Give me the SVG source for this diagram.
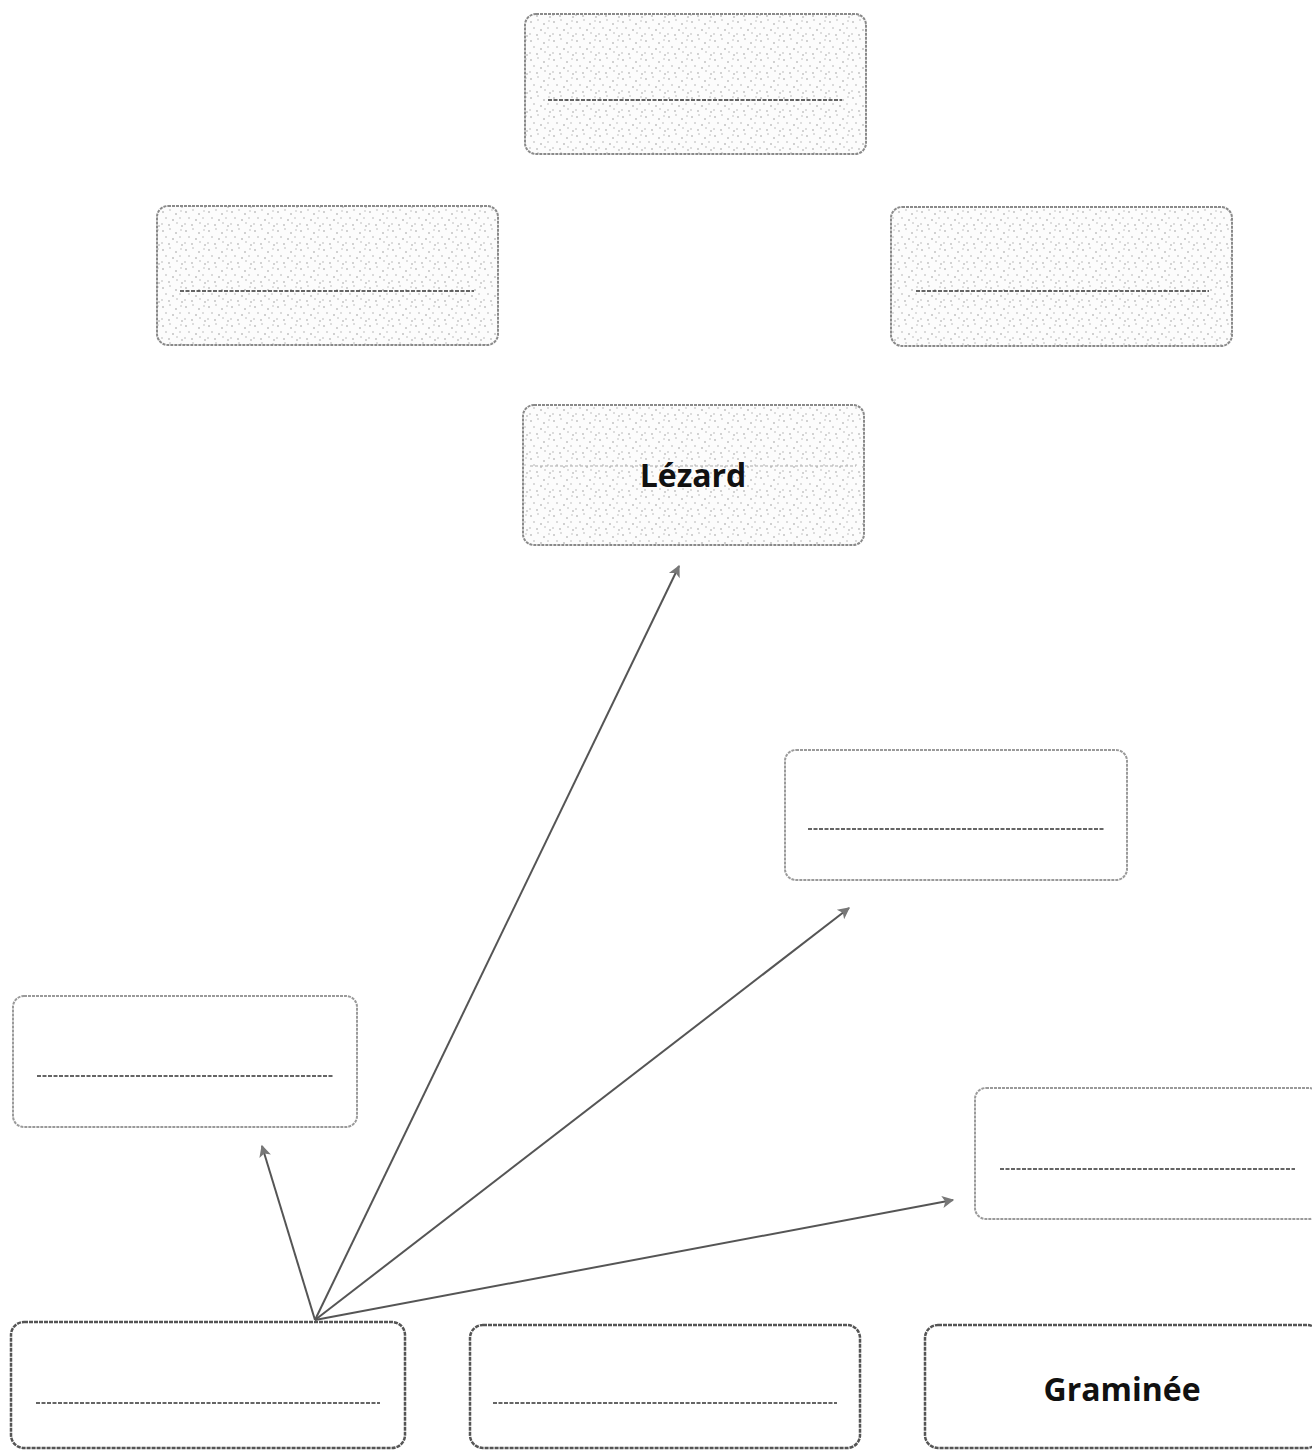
<svg xmlns="http://www.w3.org/2000/svg" width="1312" height="1450" viewBox="0 0 1312 1450">
<defs>
<pattern id="stip" width="23" height="19" patternUnits="userSpaceOnUse">
<rect width="23" height="19" fill="#fcfcfc"/>
<circle cx="2" cy="3" r="0.8" fill="#9a9a9a"/>
<circle cx="9" cy="1" r="0.7" fill="#a8a8a8"/>
<circle cx="15" cy="5" r="0.8" fill="#9a9a9a"/>
<circle cx="20" cy="2" r="0.7" fill="#b0b0b0"/>
<circle cx="5" cy="9" r="0.7" fill="#a0a0a0"/>
<circle cx="12" cy="11" r="0.8" fill="#999"/>
<circle cx="19" cy="9" r="0.7" fill="#aaa"/>
<circle cx="1" cy="15" r="0.7" fill="#a4a4a4"/>
<circle cx="8" cy="16" r="0.8" fill="#9c9c9c"/>
<circle cx="16" cy="14" r="0.7" fill="#a8a8a8"/>
<circle cx="21" cy="17" r="0.8" fill="#a0a0a0"/>
</pattern>
<marker id="ah" viewBox="0 0 10 10" refX="9" refY="5" markerWidth="18" markerHeight="12" markerUnits="userSpaceOnUse" orient="auto">
<path d="M0,0 L10,5 L0,10 L2.5,5 z" fill="#777"/>
</marker>
<style>
.shaded{fill:url(#stip);stroke:#8a8a8a;stroke-width:2;stroke-dasharray:3 1}
.plain{fill:#fff;stroke:#9a9a9a;stroke-width:2;stroke-dasharray:3 1}
.bold{fill:#fff;stroke:#555;stroke-width:2.5;stroke-dasharray:4 1}
.blank{stroke:#333;stroke-width:1.6;stroke-dasharray:4 1.5;fill:none}
.faint{stroke:#aaa;stroke-width:1.2;stroke-dasharray:3 2;fill:none}
.lbl{font-family:"Open Sans",Lato,"Liberation Sans",sans-serif;font-weight:bold;font-size:32px;fill:#111;text-anchor:middle}
.arr{stroke:#555;stroke-width:2;fill:none;marker-end:url(#ah)}
</style>
</defs>
<rect width="1312" height="1450" fill="#fff"/>
<g id="connectors">
<line class="arr" x1="315" y1="1320" x2="679" y2="566"/>
<line class="arr" x1="315" y1="1320" x2="849" y2="908"/>
<line class="arr" x1="315" y1="1320" x2="953" y2="1200"/>
<line class="arr" x1="315" y1="1320" x2="262" y2="1146"/>
</g>
<g id="n_top">
<rect class="shaded" x="525" y="14" width="341" height="140" rx="11"/>
<line class="blank" x1="548" y1="100" x2="842" y2="100"/>
</g>
<g id="n_left2">
<rect class="shaded" x="157" y="206" width="341" height="139" rx="11"/>
<line class="blank" x1="180" y1="291" x2="474" y2="291"/>
</g>
<g id="n_right2">
<rect class="shaded" x="891" y="207" width="341" height="139" rx="11"/>
<line class="blank" x1="916" y1="291" x2="1209" y2="291"/>
</g>
<g id="n_lezard">
<rect class="shaded" x="523" y="405" width="341" height="140" rx="11"/>
<line class="faint" x1="530" y1="466" x2="856" y2="466"/>
<text class="lbl" x="693" y="487">Lézard</text>
</g>
<g id="n_mid">
<rect class="plain" x="785" y="750" width="342" height="130" rx="11"/>
<line class="blank" x1="808" y1="829" x2="1104" y2="829"/>
</g>
<g id="n_leftlow">
<rect class="plain" x="13" y="996" width="344" height="131" rx="11"/>
<line class="blank" x1="37" y1="1076" x2="333" y2="1076"/>
</g>
<g id="n_rightlow">
<rect class="plain" x="975" y="1088" width="345" height="131" rx="11"/>
<line class="blank" x1="1000" y1="1169" x2="1295" y2="1169"/>
</g>
<g id="n_bot1">
<rect class="bold" x="11" y="1322" width="394" height="126" rx="13"/>
<line class="blank" x1="36" y1="1403" x2="380" y2="1403"/>
</g>
<g id="n_bot2">
<rect class="bold" x="470" y="1325" width="390" height="123" rx="13"/>
<line class="blank" x1="493" y1="1403" x2="837" y2="1403"/>
</g>
<g id="n_graminee">
<rect class="bold" x="925" y="1325" width="395" height="123" rx="13"/>
<text class="lbl" x="1122" y="1401">Graminée</text>
</g>
</svg>
